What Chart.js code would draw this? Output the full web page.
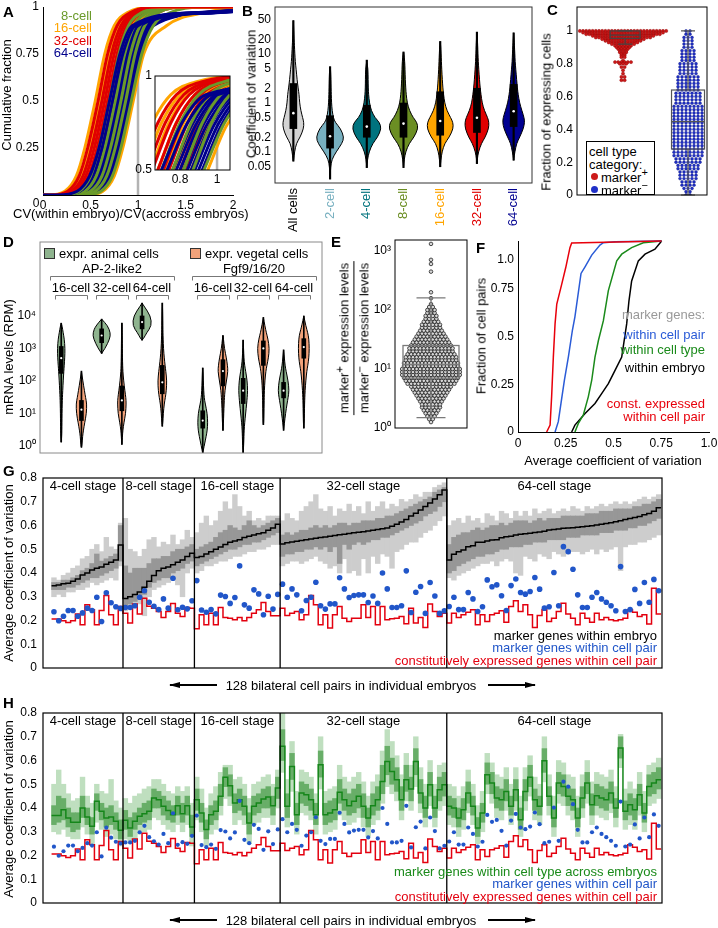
<!DOCTYPE html>
<html lang="en">
<head>
<meta charset="UTF-8" />
<meta name="viewport" content="width=device-width, initial-scale=1.0" />
<script src="https://cdn.jsdelivr.net/npm/chart.js"></script>
<title>Coefficient of variation figure</title>
<style>
  body { margin: 0; background: #fff; }
  #fig { position: relative; width: 718px; height: 928px; overflow: hidden; font-family: 'Liberation Sans', Arial, Helvetica, sans-serif; color: #000; }
  #fig canvas { position: absolute; left: 0; top: 0; }
  .t { position: absolute; white-space: nowrap; font-size: 13px; line-height: 1; }
  .pl { position: absolute; white-space: nowrap; font-weight: bold; font-size: 15px; line-height: 1; }
  sup { font-size: 11px; line-height: 0; }
</style>
</head>
<body>
<div id="fig"></div>
<script>
// ---------- A: cumulative CV ratio, one curve per embryo (x at each cumulative fraction) ----------
var aQuant = [0, 0.02, 0.1, 0.25, 0.5, 0.75, 0.9, 0.97, 1];
var a8cell = [
  [0.20,0.38,0.50,0.59,0.70,0.80,0.90,1.04,1.35],
  [0.26,0.44,0.56,0.65,0.76,0.86,0.96,1.10,1.41],
  [0.32,0.50,0.62,0.71,0.82,0.92,1.02,1.16,1.47],
  [0.37,0.55,0.67,0.76,0.87,0.97,1.07,1.21,1.52],
  [0.43,0.61,0.73,0.82,0.93,1.04,1.16,1.34,1.70]
];
var a16cell = [
  [0.05,0.23,0.35,0.44,0.55,0.65,0.75,0.89,1.20],
  [0.10,0.28,0.40,0.49,0.60,0.70,0.80,0.94,1.25],
  [0.14,0.32,0.44,0.53,0.64,0.74,0.84,0.98,1.29],
  [0.18,0.36,0.48,0.57,0.68,0.78,0.88,1.02,1.33],
  [0.22,0.40,0.52,0.61,0.72,0.82,0.92,1.06,1.37],
  [0.27,0.45,0.57,0.66,0.77,0.87,0.97,1.11,1.42],
  [0.31,0.49,0.61,0.70,0.81,0.91,1.01,1.15,1.46],
  [0.36,0.54,0.66,0.75,0.86,0.96,1.06,1.20,1.51],
  [0.45,0.63,0.75,0.84,0.95,1.06,1.30,1.70,2.20]
];
var a32cell = [
  [0.08,0.26,0.38,0.47,0.58,0.68,0.78,0.92,1.23],
  [0.12,0.30,0.42,0.51,0.62,0.72,0.82,0.96,1.27],
  [0.15,0.33,0.45,0.54,0.65,0.75,0.85,0.99,1.30],
  [0.18,0.36,0.48,0.57,0.68,0.78,0.88,1.02,1.33],
  [0.21,0.39,0.51,0.60,0.71,0.81,0.91,1.05,1.36],
  [0.24,0.42,0.54,0.63,0.74,0.84,0.94,1.08,1.39],
  [0.27,0.45,0.57,0.66,0.77,0.87,0.97,1.11,1.42],
  [0.30,0.48,0.60,0.69,0.80,0.90,1.00,1.14,1.45],
  [0.33,0.51,0.63,0.72,0.83,0.93,1.03,1.17,1.48],
  [0.37,0.55,0.67,0.76,0.87,0.97,1.07,1.21,1.52]
];
var a64cell = [
  [0.15,0.36,0.49,0.59,0.70,0.81,0.94,1.60,3.30],
  [0.18,0.39,0.52,0.62,0.73,0.84,0.97,1.63,3.33],
  [0.21,0.42,0.55,0.65,0.76,0.87,1.00,1.66,3.36],
  [0.23,0.44,0.57,0.67,0.78,0.89,1.02,1.68,3.38],
  [0.25,0.46,0.59,0.69,0.80,0.91,1.04,1.70,3.40],
  [0.27,0.48,0.61,0.71,0.82,0.93,1.06,1.72,3.42],
  [0.29,0.50,0.63,0.73,0.84,0.95,1.08,1.74,3.44],
  [0.31,0.52,0.65,0.75,0.86,0.97,1.10,1.76,3.46],
  [0.33,0.54,0.67,0.77,0.88,0.99,1.12,1.78,3.48],
  [0.35,0.56,0.69,0.79,0.90,1.01,1.14,1.80,3.50],
  [0.37,0.58,0.71,0.81,0.92,1.03,1.16,1.82,3.52]
];

// ---------- B: CV violins ----------
var bCats = ['All cells', '2-cell', '4-cell', '8-cell', '16-cell', '32-cell', '64-cell'];
var bLevels = [0.03,0.05,0.07,0.1,0.15,0.2,0.3,0.4,0.5,0.7,1,1.5,2,3,5,7,10,15,20,30,50];
var bDensAll = [0,0,0.02,0.08,0.2,0.45,0.68,0.7,0.62,0.5,0.42,0.38,0.32,0.25,0.18,0.13,0.1,0.07,0.05,0.03,0];
var bDens2 = [0,0.04,0.12,0.4,0.8,0.93,0.7,0.35,0.22,0.14,0.1,0.08,0.07,0.06,0.03,0,0,0,0,0,0];
var bDens4 = [0,0,0.05,0.15,0.4,0.72,0.97,0.85,0.55,0.3,0.18,0.12,0.1,0.09,0.08,0,0,0,0,0,0];
var bDens8 = [0,0,0.05,0.14,0.38,0.7,0.97,0.9,0.65,0.4,0.25,0.18,0.15,0.12,0.1,0.08,0.03,0,0,0,0];
var bDens16 = [0,0,0.05,0.12,0.3,0.6,0.87,0.85,0.7,0.45,0.3,0.22,0.18,0.14,0.1,0.08,0.06,0.03,0,0,0];
var bDens32 = [0,0,0.02,0.1,0.3,0.55,0.78,0.8,0.72,0.5,0.35,0.27,0.22,0.17,0.12,0.09,0.07,0.05,0.03,0,0];
var bDens64 = [0,0,0,0.08,0.2,0.4,0.65,0.73,0.7,0.55,0.4,0.3,0.25,0.2,0.14,0.1,0.08,0.05,0.03,0,0];
var bLow = [0.065,0.028,0.048,0.048,0.05,0.058,0.068];
var bQ1 = [0.3,0.12,0.2,0.2,0.22,0.25,0.33];
var bMed = [0.62,0.21,0.33,0.38,0.43,0.5,0.68];
var bQ3 = [2.5,0.55,0.9,1.0,1.7,2.0,2.4];
var bHigh = [48,5.5,7.5,11,18,28,27];

// ---------- C: fraction of expressing cells (value bins and dot counts) ----------
var cRedVals = [1.00,0.99,0.98,0.97,0.96,0.95,0.94,0.93,0.92,0.91,0.90,0.89,0.88,0.87,0.86,0.85,0.84,0.82,0.81,0.80,0.78,0.76,0.74,0.72,0.70];
var cRedCounts = [28,26,24,20,18,14,12,10,8,6,5,4,3,3,2,2,2,1,6,3,2,1,1,2,2];
var cBlueVals = [0,0.02,0.04,0.06,0.08,0.10,0.12,0.14,0.16,0.18,0.20,0.22,0.24,0.26,0.28,0.30,0.32,0.34,0.36,0.38,0.40,0.42,0.44,0.46,0.48,0.50,0.52,0.54,0.56,0.58,0.60,0.62,0.64,0.66,0.68,0.70,0.72,0.74,0.76,0.78,0.80,0.82,0.84,0.86,0.88,0.90,0.92,0.94,0.96,0.98,1.00];
var cBlueCounts = [2,2,3,4,4,5,5,5,6,6,7,7,8,8,8,8,8,8,8,8,8,8,8,8,8,8,8,8,7,7,7,7,6,6,6,6,6,5,5,5,5,4,4,4,4,3,3,3,3,2,2];
var cRedBox = [0.92, 0.955, 0.975, 1.0, 1.0];
var cBlueBox = [0, 0.28, 0.447, 0.64, 1.0];

// ---------- D: mRNA level violins ----------
var dGroups = ['AP-2-like2', 'Fgf9/16/20'];
var dStages = ['16-cell', '32-cell', '64-cell'];
var dPos = [0,1,2,3,4,5,7,8,9,10,11,12];
var dLevels = [0.6,1,2,3,5,10,20,30,50,100,200,300,500,1000,2000,3000,5000,10000,20000,30000];
var dDensAp16a = [0,0.04,0.05,0.06,0.07,0.08,0.1,0.12,0.15,0.2,0.26,0.3,0.35,0.38,0.3,0.2,0.08,0,0,0];
var dDensAp16v = [0,0.05,0.12,0.2,0.32,0.5,0.53,0.42,0.3,0.14,0.03,0,0,0,0,0,0,0,0,0];
var dDensAp32a = [0,0,0,0,0,0,0,0,0,0,0,0,0.05,0.35,0.82,0.88,0.6,0.12,0,0];
var dDensAp32v = [0,0.03,0.06,0.1,0.2,0.38,0.43,0.4,0.3,0.18,0.1,0.08,0.06,0.05,0.04,0.03,0.02,0,0,0];
var dDensAp64a = [0,0,0,0,0,0,0,0,0,0,0,0,0,0,0.15,0.45,0.95,0.85,0.2,0];
var dDensAp64v = [0,0,0,0.03,0.05,0.1,0.2,0.3,0.4,0.45,0.35,0.28,0.2,0.12,0.08,0.06,0.05,0.04,0.02,0];
var dDensFg16a = [0.05,0.15,0.35,0.45,0.5,0.45,0.25,0.15,0.1,0.06,0.03,0,0,0,0,0,0,0,0,0];
var dDensFg16v = [0,0,0,0.03,0.05,0.08,0.12,0.15,0.2,0.35,0.5,0.45,0.35,0.15,0.05,0,0,0,0,0];
var dDensFg32a = [0.03,0.05,0.08,0.1,0.15,0.25,0.35,0.4,0.45,0.4,0.25,0.15,0.08,0.04,0,0,0,0,0,0];
var dDensFg32v = [0,0,0,0,0.03,0.05,0.07,0.08,0.1,0.15,0.25,0.35,0.5,0.6,0.45,0.3,0.15,0.04,0,0];
var dDensFg64a = [0,0,0,0.03,0.08,0.2,0.35,0.45,0.55,0.45,0.25,0.15,0.08,0,0,0,0,0,0,0];
var dDensFg64v = [0,0,0,0.02,0.04,0.06,0.08,0.1,0.13,0.2,0.3,0.4,0.5,0.55,0.5,0.4,0.2,0.03,0,0];
var dLow = [1.3,0.9,700,1.1,1800,4,0.6,3,0.6,4.5,3,3.5];
var dQ1 = [170,6,1500,12,4000,40,3.5,70,20,300,30,500];
var dMed = [500,13,2500,25,6500,90,6,200,50,1000,50,1100];
var dQ3 = [1150,25,4000,70,10000,300,12,450,120,1700,90,2000];
var dHigh = [6000,200,8000,6000,25000,25000,250,2500,1800,9000,900,10000];

// ---------- E: marker+/marker- ratio (log10 bins and dot counts) ----------
var eBinLog = [0.10,0.15,0.20,0.25,0.30,0.35,0.40,0.45,0.50,0.55,0.60,0.65,0.70,0.75,0.80,0.85,0.90,0.95,1.00,1.05,1.10,1.15,1.20,1.25,1.30,1.35,1.40,1.45,1.50,1.55,1.60,1.65,1.70,1.75,1.80,1.85,1.90,1.95,2.00,2.05,2.10,2.20,2.30,2.65,2.78,2.85,3.12];
var eBinCount = [1,2,3,4,5,6,6,7,8,9,10,11,12,14,15,16,17,17,17,16,16,15,15,14,13,13,12,11,10,9,8,7,6,6,5,4,4,3,3,2,1,1,1,1,1,1,1];
var eBox = [1.5, 7, 12, 25, 160];

// ---------- F: cumulative average CV ----------
var fRedX = [0.150,0.168,0.176,0.185,0.194,0.203,0.229,0.250,0.272,0.281,0.752];
var fRedY = [0,0.036,0.184,0.392,0.566,0.670,0.774,0.861,0.965,0.99,1.0];
var fBlueX = [0.194,0.211,0.225,0.243,0.264,0.285,0.298,0.330,0.351,0.386,0.429,0.447,0.508,0.752];
var fBlueY = [0,0.054,0.150,0.272,0.394,0.534,0.603,0.830,0.865,0.926,0.979,0.991,0.996,1.0];
var fGreenX = [0.298,0.316,0.342,0.368,0.386,0.403,0.421,0.447,0.473,0.517,0.543,0.595,0.656,0.752];
var fGreenY = [0,0.045,0.089,0.184,0.271,0.392,0.479,0.583,0.740,0.896,0.931,0.965,0.991,1.0];
var fBlackX = [0.281,0.298,0.351,0.403,0.438,0.473,0.508,0.543,0.569,0.581,0.595,0.630,0.665,0.717,0.752];
var fBlackY = [0,0.036,0.097,0.149,0.201,0.253,0.323,0.392,0.566,0.687,0.791,0.896,0.931,0.957,1.0];

// ---------- G / H: 128 bilateral cell pairs ----------
var gStageNames = ['4-cell stage', '8-cell stage', '16-cell stage', '32-cell stage', '64-cell stage'];
var gStageEdges = [15, 30, 48, 83];
var gBlue = [
  0.237,0.199,0.218,0.242,0.242,0.218,0.232,0.252,0.242,0.298,0.196,0.317,0.275,0.258,0.251,
  0.255,0.255,0.262,0.298,0.325,0.277,0.26,0.246,0.291,0.252,0.378,0.245,0.256,0.249,0.283,
  0.368,0.244,0.235,0.246,0.228,0.307,0.301,0.272,0.297,0.43,0.266,0.252,0.329,0.312,0.224,0.302,0.248,0.31,
  0.353,0.298,0.333,0.308,0.241,0.284,0.298,0.361,0.262,0.248,0.27,0.27,0.38,0.333,0.297,0.305,0.308,0.308,0.276,0.303,0.272,0.4,0.333,0.255,0.255,0.262,0.409,0.234,0.319,0.343,0.23,0.36,0.303,0.23,0.241,
  0.259,0.298,0.246,0.246,0.318,0.291,0.238,0.258,0.371,0.342,0.35,0.304,0.242,0.347,0.375,0.318,0.311,0.322,0.381,0.332,0.252,0.258,0.402,0.262,0.511,0.49,0.416,0.308,0.255,0.255,0.298,0.318,0.291,0.277,0.262,0.241,0.427,0.238,0.246,0.331,0.272,0.36,0.277,0.373,0.325
];
var gRed = [
  0.206,0.206,0.199,0.192,0.199,0.227,0.182,0.266,0.245,0.182,0.242,0.305,0.224,0.182,0.259,
  0.231,0.189,0.269,0.227,0.294,0.26,0.252,0.238,0.213,0.238,0.272,0.231,0.217,0.255,0.252,
  0.165,0.224,0.182,0.231,0.182,0.255,0.213,0.21,0.203,0.213,0.199,0.213,0.231,0.245,0.276,0.238,0.22,0.22,
  0.252,0.221,0.231,0.238,0.203,0.224,0.305,0.266,0.182,0.224,0.168,0.224,0.259,0.21,0.196,0.21,0.21,0.266,0.213,0.259,0.182,0.259,0.203,0.207,0.21,0.217,0.186,0.252,0.189,0.213,0.171,0.27,0.238,0.217,0.231,
  0.189,0.231,0.213,0.224,0.235,0.245,0.182,0.224,0.196,0.224,0.231,0.241,0.193,0.259,0.283,0.238,0.266,0.224,0.171,0.221,0.245,0.196,0.21,0.238,0.273,0.227,0.21,0.182,0.231,0.21,0.193,0.231,0.203,0.213,0.203,0.199,0.203,0.21,0.245,0.235,0.217,0.224,0.185,0.336,0.227
];
var gBlack = [
  0.346,0.35,0.355,0.357,0.365,0.375,0.392,0.40,0.413,0.42,0.425,0.437,0.445,0.455,0.518,
  0.293,0.30,0.31,0.32,0.34,0.365,0.39,0.41,0.42,0.425,0.435,0.445,0.455,0.47,0.483,
  0.465,0.47,0.48,0.49,0.50,0.51,0.52,0.53,0.535,0.54,0.55,0.555,0.56,0.565,0.57,0.58,0.59,0.605,
  0.522,0.527,0.531,0.534,0.537,0.54,0.543,0.546,0.549,0.552,0.555,0.558,0.561,0.563,0.566,0.569,0.572,0.574,0.577,0.58,0.583,0.586,0.59,0.597,0.605,0.615,0.625,0.64,0.652,0.665,0.68,0.695,0.712,0.73,0.75,
  0.455,0.479,0.49,0.497,0.511,0.515,0.529,0.529,0.535,0.539,0.54,0.548,0.553,0.555,0.56,0.563,0.565,0.567,0.571,0.573,0.576,0.581,0.583,0.585,0.588,0.59,0.591,0.593,0.595,0.597,0.599,0.602,0.605,0.608,0.612,0.616,0.62,0.625,0.63,0.634,0.638,0.645,0.651,0.66,0.675
];
var gDarkLo = [
  .33,.33,.33,.34,.34,.35,.36,.37,.38,.38,.39,.40,.41,.42,.45,
  .26,.27,.28,.29,.31,.34,.36,.37,.38,.38,.40,.41,.42,.44,.45,
  .43,.44,.45,.46,.47,.48,.49,.50,.50,.51,.52,.52,.53,.53,.54,.55,.56,.57,
  .47,.48,.48,.49,.49,.50,.50,.51,.50,.51,.49,.51,.44,.52,.50,.52,.53,.52,.53,.54,.54,.55,.55,.56,.57,.58,.59,.60,.61,.62,.64,.65,.66,.68,.70,
  .40,.41,.43,.44,.45,.46,.47,.47,.48,.48,.49,.50,.50,.51,.51,.51,.52,.52,.53,.53,.53,.54,.54,.54,.54,.55,.55,.55,.56,.56,.56,.56,.57,.57,.57,.58,.58,.58,.59,.59,.60,.60,.61,.62,.63
];
var gDarkHi = [
  .36,.36,.37,.37,.38,.39,.41,.42,.44,.48,.45,.46,.47,.48,.60,
  .43,.40,.42,.42,.42,.44,.46,.46,.47,.47,.49,.50,.50,.51,.52,
  .50,.51,.52,.53,.55,.57,.58,.60,.59,.58,.60,.62,.60,.59,.60,.61,.62,.63,
  .56,.57,.56,.57,.58,.58,.59,.60,.59,.60,.59,.60,.61,.61,.60,.61,.61,.62,.62,.62,.63,.63,.64,.64,.65,.66,.67,.68,.69,.70,.71,.72,.74,.75,.76,
  .52,.55,.56,.57,.57,.58,.59,.58,.59,.60,.60,.61,.60,.61,.62,.62,.62,.61,.62,.63,.62,.63,.63,.63,.64,.64,.64,.64,.64,.65,.65,.65,.66,.66,.66,.67,.67,.67,.67,.68,.68,.69,.69,.70,.71
];
var gLightLo = [
  .30,.31,.30,.32,.32,.33,.33,.34,.36,.35,.36,.37,.38,.37,.43,
  .24,.25,.26,.27,.22,.30,.33,.34,.35,.36,.37,.35,.30,.40,.42,
  .40,.41,.43,.43,.44,.45,.45,.46,.47,.47,.48,.49,.49,.50,.50,.51,.52,.52,
  .43,.44,.45,.45,.44,.45,.46,.47,.45,.44,.42,.43,.40,.46,.40,.41,.39,.46,.40,.47,.44,.48,.47,.42,.49,.50,.52,.53,.53,.55,.57,.58,.60,.62,.64,
  .38,.37,.39,.40,.41,.42,.43,.44,.44,.45,.43,.45,.46,.45,.40,.39,.47,.46,.45,.48,.47,.46,.49,.48,.47,.48,.49,.49,.48,.49,.50,.48,.50,.49,.50,.51,.41,.51,.52,.52,.53,.53,.54,.55,.56
];
var gLightHi = [
  .38,.37,.39,.40,.42,.43,.46,.47,.50,.52,.49,.55,.51,.50,.61,
  .63,.50,.49,.47,.50,.54,.55,.51,.53,.52,.56,.52,.54,.58,.55,
  .57,.61,.64,.60,.62,.66,.70,.67,.73,.68,.64,.66,.62,.63,.62,.64,.64,.64,
  .62,.65,.63,.62,.66,.68,.70,.73,.67,.66,.68,.64,.67,.66,.69,.66,.68,.65,.70,.66,.68,.70,.67,.69,.68,.71,.70,.71,.73,.72,.74,.74,.76,.77,.78,
  .60,.62,.63,.61,.64,.62,.63,.61,.65,.64,.62,.66,.65,.63,.66,.64,.66,.64,.67,.65,.66,.67,.65,.66,.67,.66,.68,.67,.66,.68,.67,.68,.69,.68,.69,.70,.69,.70,.69,.70,.71,.72,.71,.72,.73
];
var hGreen = [
  .368,.368,.393,.358,.34,.34,.40,.362,.323,.428,.386,.358,.362,.344,.306,
  .348,.316,.344,.365,.376,.386,.442,.435,.407,.39,.372,.41,.376,.41,.32,
  .435,.379,.309,.372,.386,.449,.53,.494,.421,.435,.407,.337,.407,.421,.438,.446,.41,.484,
  .66,.407,.575,.372,.463,.456,.435,.372,.582,.372,.379,.393,.466,.435,.41,.428,.449,.407,.358,.41,.435,.512,.596,.554,.519,.435,.519,.48,.596,.463,.40,.498,.40,.477,.498,
  .407,.40,.358,.393,.463,.407,.316,.379,.54,.505,.442,.435,.47,.407,.477,.351,.47,.53,.435,.407,.599,.449,.358,.505,.491,.449,.435,.358,.442,.505,.414,.452,.442,.435,.463,.40,.653,.386,.414,.393,.456,.379,.491,.505,.519
];
var hDarkLo = [
  .33,.34,.35,.32,.30,.31,.36,.33,.29,.39,.35,.32,.33,.31,.27,
  .31,.28,.31,.33,.34,.35,.40,.40,.37,.35,.34,.37,.34,.37,.28,
  .39,.34,.27,.33,.35,.41,.49,.45,.38,.39,.37,.29,.37,.38,.40,.40,.37,.44,
  .60,.36,.52,.33,.42,.41,.39,.33,.53,.33,.34,.35,.42,.39,.37,.38,.40,.36,.32,.37,.39,.46,.54,.50,.47,.39,.47,.43,.54,.42,.36,.45,.36,.43,.45,
  .37,.36,.32,.35,.42,.37,.28,.34,.50,.46,.40,.39,.43,.37,.43,.31,.43,.49,.39,.37,.55,.41,.32,.46,.45,.41,.39,.32,.40,.46,.37,.41,.40,.39,.42,.36,.61,.35,.37,.35,.41,.34,.45,.46,.48
];
var hDarkHi = [
  .41,.45,.44,.40,.38,.38,.45,.40,.36,.46,.42,.40,.41,.38,.35,
  .39,.36,.38,.40,.42,.43,.48,.47,.45,.43,.41,.45,.42,.45,.37,
  .48,.42,.35,.41,.43,.50,.57,.54,.46,.48,.45,.38,.45,.46,.48,.49,.45,.53,
  .73,.46,.63,.42,.51,.50,.48,.42,.64,.42,.43,.44,.52,.48,.46,.48,.50,.46,.40,.46,.49,.58,.66,.61,.57,.49,.58,.53,.65,.52,.45,.55,.45,.53,.55,
  .45,.44,.40,.44,.51,.45,.36,.42,.59,.55,.49,.48,.52,.45,.52,.40,.52,.58,.48,.45,.65,.49,.40,.55,.54,.49,.48,.40,.49,.55,.46,.50,.49,.48,.51,.44,.70,.43,.46,.44,.50,.42,.54,.55,.57
];
var hLightLo = [
  .30,.29,.31,.28,.27,.27,.32,.29,.25,.34,.31,.28,.29,.27,.24,
  .27,.25,.27,.29,.30,.31,.36,.35,.33,.31,.30,.33,.30,.33,.24,
  .35,.30,.24,.29,.31,.37,.44,.41,.33,.35,.33,.25,.33,.34,.36,.36,.33,.40,
  .55,.32,.47,.29,.38,.37,.35,.29,.48,.29,.30,.31,.37,.35,.33,.34,.36,.32,.28,.33,.35,.42,.49,.46,.43,.35,.43,.39,.49,.38,.32,.41,.32,.39,.41,
  .33,.32,.28,.31,.38,.33,.25,.30,.46,.42,.36,.35,.39,.33,.39,.28,.39,.45,.35,.33,.51,.37,.28,.42,.41,.37,.35,.28,.36,.42,.33,.37,.36,.35,.38,.32,.57,.31,.33,.31,.37,.30,.41,.42,.44
];
var hLightHi = [
  .50,.56,.50,.46,.43,.44,.53,.45,.42,.50,.47,.46,.52,.43,.40,
  .44,.42,.45,.46,.48,.49,.52,.52,.50,.47,.46,.49,.47,.49,.42,
  .53,.48,.40,.46,.49,.55,.58,.58,.52,.53,.50,.44,.50,.51,.53,.54,.50,.56,
  .80,.52,.68,.47,.56,.55,.53,.46,.70,.47,.48,.49,.58,.53,.51,.53,.55,.51,.45,.51,.54,.64,.73,.68,.62,.54,.63,.58,.70,.57,.50,.60,.50,.58,.59,
  .50,.49,.45,.49,.56,.50,.41,.47,.63,.59,.54,.53,.57,.50,.57,.45,.57,.62,.53,.50,.70,.54,.45,.60,.59,.54,.53,.45,.54,.60,.51,.55,.54,.53,.56,.49,.71,.48,.51,.48,.55,.47,.58,.59,.61
];

// ---------- setup ----------
Chart.defaults.font.family = "'Liberation Sans', Arial, Helvetica, sans-serif";
Chart.defaults.font.size = 12;
Chart.defaults.color = '#000';

var fig = document.getElementById('fig');
var FONT = "'Liberation Sans', Arial, Helvetica, sans-serif";
var BLUE = '#2156c9', RED = '#e3000f', GREEN = '#1a8a1a';
var noGrid = { display: false, drawTicks: false };
function plain(v) { return String(v); }

function mk(area, yw, xh, cfg) {
  var c = document.createElement('canvas');
  c.width = 718; c.height = 928;
  fig.appendChild(c);
  cfg.options = Object.assign({
    responsive: false, animation: false, devicePixelRatio: 1, events: [],
    layout: { padding: { left: area[0] - yw, top: area[1], right: 718 - area[2], bottom: 928 - area[3] - xh } },
    plugins: { legend: { display: false }, tooltip: { enabled: false } }
  }, cfg.options);
  return new Chart(c, cfg);
}
function fixedTicks(vals) { return function (s) { s.ticks = vals.map(function (v) { return { value: v }; }); }; }
function fitW(w) { return function (s) { s.width = w; s.paddingLeft = s.paddingRight = s.paddingTop = s.paddingBottom = 0; }; }
function fitH(h) { return function (s) { s.height = h; s.paddingLeft = s.paddingRight = s.paddingTop = s.paddingBottom = 0; }; }

function txt(s, x, y, align, color, rot, size) {
  var d = document.createElement('div');
  d.className = 't';
  d.innerHTML = s;
  d.style.left = x + 'px';
  d.style.top = y + 'px';
  if (color) d.style.color = color;
  if (size) d.style.fontSize = size + 'px';
  var tx = align === 'r' ? '-100%' : (align === 'c' ? '-50%' : '0');
  d.style.transform = 'translate(' + tx + ',-50%)' + (rot ? ' rotate(' + rot + 'deg)' : '');
  fig.appendChild(d);
  return d;
}
function letter(s, x, y) {
  var d = document.createElement('div');
  d.className = 'pl';
  d.textContent = s;
  d.style.left = x + 'px'; d.style.top = y + 'px';
  d.style.transform = 'translate(0,-50%)';
  fig.appendChild(d);
}
function rect(x, y, w, h, css) {
  var d = document.createElement('div');
  d.style.cssText = 'position:absolute;left:' + x + 'px;top:' + y + 'px;width:' + w + 'px;height:' + h + 'px;' + css;
  fig.appendChild(d);
  return d;
}
function arrow(x1, x2, y, headLeft) {
  rect(x1, y - 0.6, x2 - x1, 1.2, 'background:#000');
  var css = 'width:0;height:0;border-top:3.5px solid transparent;border-bottom:3.5px solid transparent;';
  if (headLeft) rect(x1 - 1, y - 3.5, 0, 0, css + 'border-right:11px solid #000');
  else rect(x2 - 10, y - 3.5, 0, 0, css + 'border-left:11px solid #000');
}

function framePlugin(id, color, w) {
  return { id: id, afterDraw: function (ch) {
    var ctx = ch.ctx, a = ch.chartArea;
    ctx.save(); ctx.strokeStyle = color; ctx.lineWidth = w;
    ctx.strokeRect(a.left, a.top, a.right - a.left, a.bottom - a.top);
    ctx.restore();
  } };
}
function vlinePlugin(id, val, color, w) {
  return { id: id, beforeDatasetsDraw: function (ch) {
    var ctx = ch.ctx, a = ch.chartArea, px = ch.scales.x.getPixelForValue(val);
    ctx.save(); ctx.strokeStyle = color; ctx.lineWidth = w;
    ctx.beginPath(); ctx.moveTo(px, a.top); ctx.lineTo(px, a.bottom); ctx.stroke();
    ctx.restore();
  } };
}
var whiteBg = { id: 'whiteBg', beforeDraw: function (ch) {
  var a = ch.chartArea; ch.ctx.save(); ch.ctx.fillStyle = '#fff';
  ch.ctx.fillRect(a.left, a.top, a.right - a.left, a.bottom - a.top); ch.ctx.restore();
} };

function smoothPath(ctx, pts, start) {
  if (start) ctx.moveTo(pts[0][0], pts[0][1]); else ctx.lineTo(pts[0][0], pts[0][1]);
  for (var i = 1; i < pts.length - 1; i++) {
    ctx.quadraticCurveTo(pts[i][0], pts[i][1], (pts[i][0] + pts[i + 1][0]) / 2, (pts[i][1] + pts[i + 1][1]) / 2);
  }
  var l = pts[pts.length - 1];
  ctx.lineTo(l[0], l[1]);
}
function violinPlugin(id, v) {
  return { id: id, beforeDatasetsDraw: function (ch) {
    var ctx = ch.ctx, a = ch.chartArea, xs = ch.scales.x, ys = ch.scales.y;
    ctx.save();
    ctx.beginPath(); ctx.rect(a.left, a.top, a.right - a.left, a.bottom - a.top); ctx.clip();
    v.pos.forEach(function (p, i) {
      var cx = xs.getPixelForValue(p);
      var prof = [[v.low[i], 0]];
      v.levels.forEach(function (lv, k) { if (lv > v.low[i] && lv < v.high[i]) prof.push([lv, v.dens[i][k]]); });
      prof.push([v.high[i], 0]);
      var right = prof.map(function (q) { return [cx + q[1] * v.hw, ys.getPixelForValue(q[0])]; });
      var left = prof.slice().reverse().map(function (q) { return [cx - q[1] * v.hw, ys.getPixelForValue(q[0])]; });
      ctx.beginPath();
      smoothPath(ctx, right, true);
      smoothPath(ctx, left, false);
      ctx.closePath();
      ctx.fillStyle = v.fills[i]; ctx.fill();
      ctx.strokeStyle = '#000'; ctx.lineWidth = v.lw; ctx.stroke();
    });
    ctx.restore();
  } };
}
function boxPlugin(id, boxes) {
  return { id: id, afterDatasetsDraw: function (ch) {
    var ctx = ch.ctx, xs = ch.scales.x, ys = ch.scales.y;
    ctx.save();
    boxes.forEach(function (b) {
      var cx = xs.getPixelForValue(b.cx);
      var p = b.st.map(function (v) { return ys.getPixelForValue(v); });
      ctx.strokeStyle = b.color; ctx.lineWidth = b.lw;
      ctx.strokeRect(cx - b.hw, p[3], 2 * b.hw, p[1] - p[3]);
      ctx.beginPath();
      ctx.moveTo(cx - b.hw, p[2]); ctx.lineTo(cx + b.hw, p[2]);
      ctx.moveTo(cx, p[1]); ctx.lineTo(cx, p[0]);
      ctx.moveTo(cx, p[3]); ctx.lineTo(cx, p[4]);
      ctx.moveTo(cx - b.cap, p[0]); ctx.lineTo(cx + b.cap, p[0]);
      ctx.moveTo(cx - b.cap, p[4]); ctx.lineTo(cx + b.cap, p[4]);
      ctx.stroke();
    });
    ctx.restore();
  } };
}
function swarm(vals, counts, cx, step) {
  var pts = [];
  vals.forEach(function (v, j) {
    var n = counts[j];
    for (var k = 0; k < n; k++) pts.push({ x: cx + (k - (n - 1) / 2) * step, y: v });
  });
  return pts;
}
function zip(xs, ys) { return xs.map(function (x, i) { return { x: x, y: ys[i] }; }); }

// ---------- A ----------
function aDatasets(width) {
  var groups = [[a64cell, '#00008b'], [a32cell, '#e00000'], [a16cell, '#ffa500'], [a8cell, '#6a9a2a']];
  var out = [];
  for (var k = 0; k < 11; k++) {
    groups.forEach(function (g) {
      var c = g[0][k];
      if (!c) return;
      var pts = [{ x: 0, y: 0 }].concat(aQuant.map(function (q, j) { return { x: c[j], y: q }; }));
      if (c[c.length - 1] < 3.6) pts.push({ x: 3.6, y: 1 });
      out.push({ type: 'line', data: pts, borderColor: g[1], borderWidth: width, pointRadius: 0, cubicInterpolationMode: 'monotone', fill: false });
    });
  }
  return out;
}
mk([43, 7, 233, 195], 30, 20, {
  type: 'line',
  data: { datasets: aDatasets(3) },
  options: { scales: {
    x: { type: 'linear', min: 0, max: 2, grid: noGrid, border: { color: '#000' }, ticks: { autoSkip: false, padding: 3, callback: plain }, afterBuildTicks: fixedTicks([0, 0.5, 1, 1.5, 2]), afterFit: fitH(20) },
    y: { type: 'linear', min: 0, max: 1, grid: noGrid, border: { color: '#000' }, ticks: { autoSkip: false, padding: 4, callback: plain }, afterBuildTicks: fixedTicks([0.25, 0.5, 0.75, 1]), afterFit: fitW(30) }
  } },
  plugins: [vlinePlugin('aLine', 1, '#b3b3b3', 2.5)]
});
mk([155, 76, 230, 170], 25, 16, {
  type: 'line',
  data: { datasets: aDatasets(3) },
  options: { scales: {
    x: { type: 'linear', min: 0.665, max: 1.07, grid: noGrid, border: { display: false }, ticks: { autoSkip: false, padding: 2, callback: plain }, afterBuildTicks: fixedTicks([0.8, 1]), afterFit: fitH(16) },
    y: { type: 'linear', min: 0.5, max: 1, grid: noGrid, border: { display: false }, ticks: { autoSkip: false, padding: 3, callback: plain }, afterBuildTicks: fixedTicks([0.5, 1]), afterFit: fitW(25) }
  } },
  plugins: [whiteBg, vlinePlugin('aInsetLine', 1, '#b3b3b3', 2.5), framePlugin('aInsetFrame', '#000', 1)]
});

// ---------- B ----------
var bFills = ['#d3d3d3', '#78b0c0', '#00737e', '#6b8e23', '#ffa500', '#e00000', '#000090'];
var bTickColors = ['#000', '#78b0c0', '#00737e', '#6b8e23', '#ffa500', '#e00000', '#000090'];
mk([275, 7, 532, 183], 30, 50, {
  type: 'scatter',
  data: { labels: bCats, datasets: [
    { type: 'scatter', data: bMed.map(function (v, i) { return { x: i, y: v }; }), pointRadius: 1.3, pointBackgroundColor: '#fff', pointBorderWidth: 0 },
    { type: 'bar', data: bQ1.map(function (v, i) { return [v, bQ3[i]]; }), backgroundColor: '#000', barThickness: 7, grouped: false },
    { type: 'bar', data: bLow.map(function (v, i) { return [v, bHigh[i]]; }), backgroundColor: '#000', barThickness: 1.5, grouped: false }
  ] },
  options: { scales: {
    x: { type: 'category', offset: true, grid: noGrid, border: { display: false },
         ticks: { autoSkip: false, minRotation: 90, maxRotation: 90, padding: 5, font: { size: 13 }, color: function (c) { return bTickColors[c.index]; } },
         afterFit: fitH(50) },
    y: { type: 'logarithmic', min: 0.0233, max: 91, grid: noGrid, border: { display: false },
         ticks: { autoSkip: false, padding: 4, callback: plain },
         afterBuildTicks: fixedTicks([0.05, 0.1, 0.2, 0.5, 1, 2, 5, 10, 20, 50]), afterFit: fitW(30) }
  } },
  plugins: [violinPlugin('bViolins', { pos: [0, 1, 2, 3, 4, 5, 6], levels: bLevels, dens: [bDensAll, bDens2, bDens4, bDens8, bDens16, bDens32, bDens64], low: bLow, high: bHigh, fills: bFills, hw: 15, lw: 1 }),
            framePlugin('bFrame', '#333', 1)]
});

// ---------- C ----------
mk([577, 7, 707, 195], 30, 0, {
  type: 'scatter',
  data: { datasets: [
    { data: swarm(cRedVals, cRedCounts, 0.354, 3.2 / 130), pointRadius: 1.6, pointBackgroundColor: '#cc1a1a', pointBorderColor: '#8e0000', pointBorderWidth: 0.4 },
    { data: swarm(cBlueVals, cBlueCounts, 0.854, 4 / 130), pointRadius: 1.45, pointBackgroundColor: '#2030c8', pointBorderColor: '#101a80', pointBorderWidth: 0.4 }
  ] },
  options: { scales: {
    x: { type: 'linear', min: 0, max: 1, display: false },
    y: { type: 'linear', min: 0, max: 1.146, grid: noGrid, border: { display: false }, ticks: { autoSkip: false, padding: 4, callback: plain }, afterBuildTicks: fixedTicks([0, 0.2, 0.4, 0.6, 0.8, 1]), afterFit: fitW(30) }
  } },
  plugins: [boxPlugin('cBoxes', [
    { cx: 0.37, st: cRedBox, hw: 15, cap: 7, color: '#444', lw: 1.2 },
    { cx: 0.854, st: cBlueBox, hw: 16.5, cap: 7, color: '#555', lw: 1.2 }
  ]), framePlugin('cFrame', '#000', 1)]
});

// ---------- D ----------
var dFills = ['#8fb48f', '#f2a27a', '#8fb48f', '#f2a27a', '#8fb48f', '#f2a27a', '#8fb48f', '#f2a27a', '#8fb48f', '#f2a27a', '#8fb48f', '#f2a27a'];
var dBrackets = { id: 'dBrackets', afterDatasetsDraw: function (ch) {
  var ctx = ch.ctx, a = ch.chartArea, xs = ch.scales.x;
  ctx.save();
  ctx.strokeStyle = '#777'; ctx.lineWidth = 1; ctx.fillStyle = '#000';
  ctx.font = '13px ' + FONT; ctx.textAlign = 'center'; ctx.textBaseline = 'middle';
  function bracket(x1, x2, y) {
    ctx.beginPath(); ctx.moveTo(x1 + 0.5, y + 4.5); ctx.lineTo(x1 + 0.5, y + 0.5); ctx.lineTo(x2 + 0.5, y + 0.5); ctx.lineTo(x2 + 0.5, y + 4.5); ctx.stroke();
  }
  dGroups.forEach(function (name, g) {
    var x1 = Math.round(xs.getPixelForValue(dPos[6 * g]) - 11), x2 = Math.round(xs.getPixelForValue(dPos[6 * g + 5]) + 12);
    bracket(x1, x2, a.top + 34);
    ctx.fillText(name, (x1 + x2) / 2, a.top + 27);
    dStages.forEach(function (st, s) {
      var s1 = Math.round(xs.getPixelForValue(dPos[6 * g + 2 * s]) - 6), s2 = Math.round(xs.getPixelForValue(dPos[6 * g + 2 * s + 1]) + 6);
      bracket(s1, s2, a.top + 53);
      ctx.fillText(st, (s1 + s2) / 2, a.top + 46);
    });
  });
  ctx.restore();
} };
mk([40, 242, 322, 453], 40, 0, {
  type: 'scatter',
  data: { datasets: [
    { type: 'scatter', data: dMed.map(function (v, i) { return { x: dPos[i], y: v }; }), pointRadius: 1.1, pointBackgroundColor: '#fff', pointBorderWidth: 0 },
    { type: 'bar', data: dQ1.map(function (v, i) { return { x: dPos[i], y: [v, dQ3[i]] }; }), backgroundColor: '#000', barThickness: 4, grouped: false },
    { type: 'bar', data: dLow.map(function (v, i) { return { x: dPos[i], y: [v, dHigh[i]] }; }), backgroundColor: '#000', barThickness: 1, grouped: false }
  ] },
  options: { scales: {
    x: { type: 'linear', min: -1.05, max: 12.9, offset: false, display: false },
    y: { type: 'logarithmic', min: 0.61, max: 1.9e6, grid: noGrid, border: { display: false },
         ticks: { autoSkip: false, padding: 4, font: { size: 12 }, callback: function (v) { return '10' + '⁰¹²³⁴'[Math.round(Math.log10(v))]; } },
         afterBuildTicks: fixedTicks([1, 10, 100, 1000, 10000]), afterFit: fitW(40) }
  } },
  plugins: [violinPlugin('dViolins', { pos: dPos, levels: dLevels,
    dens: [dDensAp16a, dDensAp16v, dDensAp32a, dDensAp32v, dDensAp64a, dDensAp64v, dDensFg16a, dDensFg16v, dDensFg32a, dDensFg32v, dDensFg64a, dDensFg64v],
    low: dLow, high: dHigh, fills: dFills, hw: 10, lw: 1 }), dBrackets, framePlugin('dFrame', '#8a8a8a', 1)]
});

// ---------- E ----------
mk([395, 240, 467, 428], 28, 0, {
  type: 'scatter',
  data: { datasets: [
    { data: swarm(eBinLog.map(function (l) { return Math.pow(10, l); }), eBinCount, 0.5, 3.6 / 72), pointRadius: 1.8, pointBackgroundColor: '#d6d6d6', pointBorderColor: '#222', pointBorderWidth: 0.8 }
  ] },
  options: { scales: {
    x: { type: 'linear', min: 0, max: 1, display: false },
    y: { type: 'logarithmic', min: 1, max: 1535, grid: noGrid, border: { display: false },
         ticks: { autoSkip: false, padding: 4, callback: function (v) { return '10' + '⁰¹²³'[Math.round(Math.log10(v))]; } },
         afterBuildTicks: fixedTicks([1, 10, 100, 1000]), afterFit: fitW(28) }
  } },
  plugins: [boxPlugin('eBox', [{ cx: 0.5, st: eBox, hw: 28, cap: 14.5, color: '#7a7a7a', lw: 1.3 }]), framePlugin('eFrame', '#000', 1)]
});

// ---------- F ----------
mk([518, 241, 709, 432], 30, 20, {
  type: 'line',
  data: { datasets: [
    { data: zip(fRedX, fRedY), borderColor: '#e8000b' },
    { data: zip(fBlueX, fBlueY), borderColor: '#2a5bd7' },
    { data: zip(fGreenX, fGreenY), borderColor: GREEN },
    { data: zip(fBlackX, fBlackY), borderColor: '#000' }
  ].map(function (d) { return Object.assign({ borderWidth: 1.5, pointRadius: 0, fill: false, tension: 0, clip: 3 }, d); }) },
  options: { scales: {
    x: { type: 'linear', min: 0, max: 1, grid: noGrid, border: { color: '#000' }, ticks: { autoSkip: false, padding: 4, callback: function (v) { return v === 1 ? '1.0' : String(v); } },
         afterBuildTicks: fixedTicks([0, 0.25, 0.5, 0.75, 1]), afterFit: fitH(20) },
    y: { type: 'linear', min: 0, max: 1, grid: noGrid, border: { color: '#000' }, ticks: { autoSkip: false, padding: 4, callback: function (v) { return v === 0.9 ? '1.0' : String(v); } },
         afterBuildTicks: fixedTicks([0, 0.25, 0.5, 0.75, 0.9]), afterFit: fitW(30) }
  } }
});

// ---------- G / H ----------
function steps(vals) {
  var d = vals.map(function (v, i) { return { x: i, y: v }; });
  d.push({ x: vals.length, y: vals[vals.length - 1] });
  return d;
}
function bands(lo, hi) { return lo.map(function (v, i) { return { x: i + 0.5, y: [v, hi[i]] }; }); }
function dots(vals) { return vals.map(function (v, i) { return { x: i + 0.5, y: v }; }); }
var stagePlugin = { id: 'stages', afterDatasetsDraw: function (ch) {
  var ctx = ch.ctx, a = ch.chartArea, xs = ch.scales.x;
  ctx.save();
  ctx.strokeStyle = '#000'; ctx.lineWidth = 1.3;
  ctx.beginPath();
  gStageEdges.forEach(function (e) { var px = xs.getPixelForValue(e); ctx.moveTo(px, a.top); ctx.lineTo(px, a.bottom); });
  ctx.stroke();
  var edges = [xs.min].concat(gStageEdges, [xs.max]);
  ctx.fillStyle = '#000'; ctx.font = '13px ' + FONT; ctx.textAlign = 'center'; ctx.textBaseline = 'middle';
  gStageNames.forEach(function (s, i) { ctx.fillText(s, xs.getPixelForValue((edges[i] + edges[i + 1]) / 2), a.top + 8); });
  ctx.restore();
} };
function pairChart(area, id, datasets) {
  return mk(area, 43, 0, {
    type: 'scatter',
    data: { datasets: datasets },
    options: { scales: {
      x: { type: 'linear', min: -1.8, max: 128.2, offset: false, display: false },
      y: { type: 'linear', min: 0, max: 0.8, grid: noGrid, border: { display: false }, ticks: { stepSize: 0.1, autoSkip: false, padding: 6 }, afterFit: fitW(43) }
    } },
    plugins: [stagePlugin, framePlugin(id, '#000', 1.2)]
  });
}
var barOpts = { type: 'bar', grouped: false, barPercentage: 1, categoryPercentage: 1, borderWidth: 0 };
pairChart([43, 478, 662, 668], 'gFrame', [
  { type: 'scatter', data: dots(gBlue), pointRadius: 2.8, pointBackgroundColor: BLUE, pointBorderWidth: 0 },
  { type: 'line', data: steps(gRed), stepped: true, borderColor: RED, borderWidth: 1.5, pointRadius: 0, fill: false },
  { type: 'line', data: steps(gBlack), stepped: true, borderColor: '#000', borderWidth: 1.5, pointRadius: 0, fill: false },
  Object.assign({ data: bands(gDarkLo, gDarkHi), backgroundColor: '#979797' }, barOpts),
  Object.assign({ data: bands(gLightLo, gLightHi), backgroundColor: '#cdcdcd' }, barOpts)
]);
pairChart([43, 713, 662, 903], 'hFrame', [
  { type: 'scatter', data: dots(gBlue), pointRadius: 2.1, pointBackgroundColor: BLUE, pointBorderWidth: 0 },
  { type: 'line', data: steps(gRed), stepped: true, borderColor: RED, borderWidth: 1.5, pointRadius: 0, fill: false },
  { type: 'line', data: steps(hGreen), stepped: true, borderColor: '#15861a', borderWidth: 1.5, pointRadius: 0, fill: false },
  Object.assign({ data: bands(hDarkLo, hDarkHi), backgroundColor: '#68ae68' }, barOpts),
  Object.assign({ data: bands(hLightLo, hLightHi), backgroundColor: '#bfdfbf' }, barOpts)
]);

// ---------- text ----------
letter('A', 3, 11); letter('B', 242, 10); letter('C', 547, 9);
letter('D', 3, 241); letter('E', 331, 241); letter('F', 476, 247);
letter('G', 3, 470); letter('H', 3, 702);

txt('8-cell', 92, 15, 'r', '#6a9a2a');
txt('16-cell', 92, 27, 'r', '#ffa500');
txt('32-cell', 92, 40, 'r', '#e00000');
txt('64-cell', 92, 52, 'r', '#00008b');
txt('Cumulative fraction', 6, 95, 'c', null, -90);
txt('CV(within embryo)/CV(accross embryos)', 13, 213, 'l');
txt('0', 36, 203, 'c', null, 0, 12);

txt('Coefficient of variation', 251, 94, 'c', null, -90);

txt('Fraction of expressing cells', 546, 112, 'c', null, -90);
rect(586, 141, 67, 52, 'background:#fff;border:1px solid #000');
txt('cell type', 589, 151, 'l');
txt('category:', 589, 164, 'l');
rect(591, 173, 7, 7, 'background:#cc1a1a;border-radius:50%');
txt('marker<sup>+</sup>', 601, 177, 'l');
rect(591, 186, 7, 7, 'background:#2030c8;border-radius:50%');
txt('marker<sup>−</sup>', 601, 190, 'l');

rect(44, 248, 9, 9, 'background:#8fb48f;border:1px solid #333');
txt('expr. animal cells', 59, 253, 'l');
rect(190, 248, 9, 9, 'background:#f2a27a;border:1px solid #333');
txt('expr. vegetal cells', 205, 253, 'l');
txt('mRNA levels (RPM)', 8, 357, 'c', null, -90);

var et = txt('<div style="border-bottom:1.5px solid #000;padding:0 2px 1px">marker<sup>+</sup> expression levels</div><div style="padding-top:2px">marker<sup>−</sup> expression levels</div>', 354, 338, 'c', null, -90);
et.style.textAlign = 'center';
et.style.lineHeight = '1.2';

txt('Fraction of cell pairs', 481, 336, 'c', null, -90);
txt('Average coefficient of variation', 613, 460, 'c');
txt('marker genes:', 705, 314, 'r', '#999');
txt('within cell pair', 705, 334, 'r', '#2a5bd7');
txt('within cell type', 705, 349, 'r', GREEN);
txt('within embryo', 705, 367, 'r', '#000');
txt('const. expressed', 705, 403, 'r', '#e8000b');
txt('within cell pair', 705, 416, 'r', '#e8000b');

txt('Average coefficient of variation', 8, 573, 'c', null, -90);
txt('marker genes within embryo', 657, 635, 'r', '#000');
txt('marker genes within cell pair', 657, 647, 'r', BLUE);
txt('constitutively expressed genes within cell pair', 657, 660, 'r', RED);
arrow(170, 217, 685, true);
txt('128 bilateral cell pairs in individual embryos', 351, 685, 'c');
arrow(488, 535, 685, false);

txt('Average coefficient of variation', 8, 809, 'c', null, -90);
txt('marker genes within cell type across embryos', 657, 871, 'r', GREEN);
txt('marker genes within cell pair', 657, 883, 'r', BLUE);
txt('constitutively expressed genes within cell pair', 657, 896, 'r', RED);
arrow(170, 217, 920, true);
txt('128 bilateral cell pairs in individual embryos', 351, 920, 'c');
arrow(488, 535, 920, false);

[gBlue, gRed, gBlack, gDarkLo, gDarkHi, gLightLo, gLightHi, hGreen, hDarkLo, hDarkHi, hLightLo, hLightHi].forEach(function (arr, i) {
  if (arr.length !== 128) txt('length ' + i + ': ' + arr.length, 300, 470, 'l', 'magenta');
});
</script>
</body>
</html>
